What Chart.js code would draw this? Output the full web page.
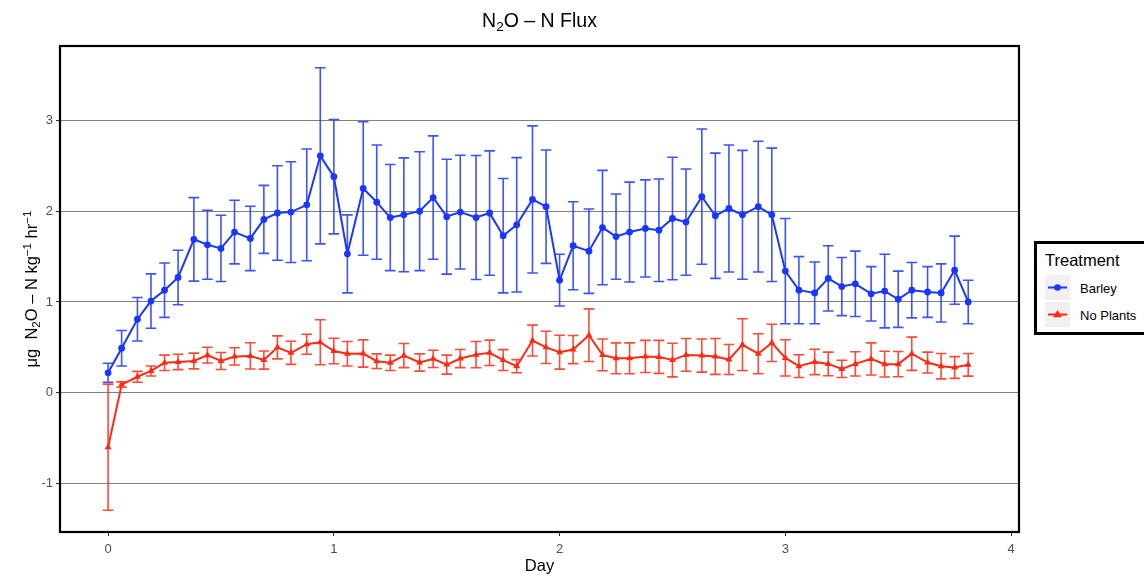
<!DOCTYPE html>
<html>
<head>
<meta charset="utf-8">
<script src="https://cdn.jsdelivr.net/npm/chart.js@4"></script>
<style>
  body { margin:0; width:1144px; height:575px; overflow:hidden; position:relative; background:#fff;
         font-family:"Liberation Sans", Arial, Helvetica, sans-serif; color:#000; }
  #c { position:absolute; left:0; top:0; }
  .title { position:absolute; left:60px; width:959px; top:9px; text-align:center; font-size:19.5px; }
  .xtitle { position:absolute; left:60px; width:959px; top:556px; text-align:center; font-size:16.5px; }
  .ytitle { position:absolute; left:31px; top:289px; width:300px; margin-left:-150px; text-align:center;
            font-size:16.5px; transform:translate(0,-50%) rotate(-90deg); transform-origin:50% 50%; white-space:nowrap; line-height:20px; }
  sub { font-size:70%; vertical-align:-0.3em; line-height:0; }
  sup { font-size:70%; vertical-align:0.55em; line-height:0; }
  .legend { position:absolute; left:1034px; top:241px; width:130px; height:88px; border:3px solid #000; background:#fff; }
  .legend .lt { position:absolute; left:8px; top:7px; font-size:16.5px; }
  .legend .key { position:absolute; left:8px; width:25px; height:25px; background:#f0f0f0; }
  .legend .lab { position:absolute; left:43px; font-size:13px; }
</style>
</head>
<body>
<canvas id="c" width="1144" height="575"></canvas>
<div class="title">N<sub>2</sub>O – N Flux</div>
<div class="xtitle">Day</div>
<div class="ytitle">μg&nbsp; N<sub>2</sub>O – N kg<sup>−1</sup> hr<sup>−1</sup></div>
<div class="legend">
  <div class="lt">Treatment</div>
  <div class="key" style="top:31px"><svg width="25" height="25"><line x1="3" y1="12.5" x2="22" y2="12.5" stroke="#1a36ff" stroke-width="2"/><circle cx="12.5" cy="12.5" r="3.3" fill="#1a36ff"/></svg></div>
  <div class="lab" style="top:37px">Barley</div>
  <div class="key" style="top:58px"><svg width="25" height="25"><line x1="3" y1="12.5" x2="22" y2="12.5" stroke="#ff2a14" stroke-width="2"/><polygon points="12.5,8 17,15.2 8,15.2" fill="#ff2a14"/></svg></div>
  <div class="lab" style="top:64px">No Plants</div>
</div>
<script>
// Sampling times (days)
const days = [0, 0.06, 0.13, 0.19, 0.25, 0.31, 0.38, 0.44, 0.50, 0.56, 0.63, 0.69, 0.75, 0.81, 0.88, 0.94,
  1.00, 1.06, 1.13, 1.19, 1.25, 1.31, 1.38, 1.44, 1.50, 1.56, 1.63, 1.69, 1.75, 1.81, 1.88, 1.94,
  2.00, 2.06, 2.13, 2.19, 2.25, 2.31, 2.38, 2.44, 2.50, 2.56, 2.63, 2.69, 2.75, 2.81, 2.88, 2.94,
  3.00, 3.06, 3.13, 3.19, 3.25, 3.31, 3.38, 3.44, 3.50, 3.56, 3.63, 3.69, 3.75, 3.81];

// Mean N2O-N flux, Barley
const barley = [0.22, 0.49, 0.81, 1.01, 1.13, 1.27, 1.69, 1.63, 1.59, 1.77, 1.70, 1.91, 1.98, 1.99, 2.07, 2.61,
  2.38, 1.53, 2.25, 2.10, 1.93, 1.96, 2.00, 2.15, 1.94, 1.99, 1.93, 1.98, 1.73, 1.85, 2.13, 2.05,
  1.24, 1.62, 1.56, 1.82, 1.72, 1.77, 1.81, 1.79, 1.92, 1.88, 2.16, 1.95, 2.03, 1.96, 2.05, 1.96,
  1.34, 1.13, 1.10, 1.26, 1.17, 1.20, 1.09, 1.12, 1.03, 1.13, 1.11, 1.10, 1.35, 1.00];
// Standard error, Barley
const barleySE = [0.105, 0.195, 0.24, 0.30, 0.30, 0.30, 0.46, 0.38, 0.365, 0.35, 0.355, 0.375, 0.52, 0.555, 0.615, 0.97,
  0.63, 0.43, 0.735, 0.63, 0.585, 0.627, 0.655, 0.68, 0.633, 0.627, 0.683, 0.685, 0.63, 0.74, 0.81, 0.625,
  0.285, 0.485, 0.465, 0.63, 0.47, 0.55, 0.535, 0.565, 0.675, 0.585, 0.745, 0.69, 0.70, 0.71, 0.72, 0.735,
  0.58, 0.37, 0.34, 0.36, 0.32, 0.36, 0.30, 0.405, 0.31, 0.305, 0.28, 0.32, 0.375, 0.24];

// Mean N2O-N flux, No Plants
const noPlants = [-0.60, 0.09, 0.176, 0.24, 0.33, 0.34, 0.35, 0.414, 0.35, 0.40, 0.406, 0.36, 0.50, 0.44, 0.535, 0.557,
  0.46, 0.43, 0.432, 0.348, 0.33, 0.41, 0.333, 0.374, 0.31, 0.377, 0.42, 0.44, 0.36, 0.293, 0.575, 0.50,
  0.447, 0.476, 0.634, 0.417, 0.38, 0.38, 0.40, 0.395, 0.36, 0.417, 0.41, 0.40, 0.366, 0.53, 0.43, 0.55,
  0.384, 0.293, 0.34, 0.318, 0.263, 0.318, 0.373, 0.315, 0.315, 0.43, 0.333, 0.293, 0.278, 0.308];
// Standard error, No Plants
const noPlantsSE = [0.695, 0.03, 0.06, 0.055, 0.085, 0.085, 0.087, 0.087, 0.093, 0.095, 0.145, 0.10, 0.127, 0.127, 0.11, 0.248,
  0.14, 0.135, 0.15, 0.08, 0.085, 0.133, 0.095, 0.095, 0.105, 0.10, 0.145, 0.14, 0.115, 0.072, 0.17, 0.177,
  0.187, 0.155, 0.29, 0.175, 0.17, 0.17, 0.177, 0.182, 0.185, 0.18, 0.183, 0.197, 0.165, 0.285, 0.22, 0.205,
  0.20, 0.125, 0.14, 0.13, 0.095, 0.133, 0.177, 0.142, 0.139, 0.183, 0.115, 0.14, 0.12, 0.125];

const xTicks = [0, 1, 2, 3, 4];
const yTicks = [-1, 0, 1, 2, 3];

const BLUE = '#1a36ff';
const RED = '#ff2a14';
const FONT = '"Liberation Sans", Arial, Helvetica, sans-serif';

const pts = (ys) => days.map((d, i) => ({ x: d, y: ys[i] }));

// Vertical error bars with caps, drawn in data space
const errorBars = {
  id: 'errorBars',
  afterDatasetsDraw(chart) {
    const { ctx, scales: { x, y } } = chart;
    ctx.save();
    chart.data.datasets.forEach((ds, di) => {
      if (!chart.isDatasetVisible(di)) return;
      ctx.strokeStyle = ds.errorColor;
      ctx.lineWidth = 1.6;
      ds.data.forEach((p, i) => {
        const e = ds.errors[i];
        const px = x.getPixelForValue(p.x);
        const yTop = y.getPixelForValue(p.y + e);
        const yBot = y.getPixelForValue(p.y - e);
        const half = x.getPixelForValue(p.x + 0.0235) - px;
        ctx.beginPath();
        ctx.moveTo(px, yTop); ctx.lineTo(px, yBot);
        ctx.moveTo(px - half, yTop); ctx.lineTo(px + half, yTop);
        ctx.moveTo(px - half, yBot); ctx.lineTo(px + half, yBot);
        ctx.stroke();
      });
    });
    ctx.restore();
  }
};

// Panel frame
const panelFrame = {
  id: 'panelFrame',
  afterDraw(chart) {
    const { ctx, chartArea: a } = chart;
    ctx.save();
    ctx.strokeStyle = '#000';
    ctx.lineWidth = 2.2;
    ctx.strokeRect(a.left, a.top, a.right - a.left, a.bottom - a.top);
    ctx.restore();
  }
};

new Chart(document.getElementById('c'), {
  type: 'line',
  data: {
    datasets: [
      { label: 'Barley', data: pts(barley), errors: barleySE, errorColor: 'rgba(26,54,255,0.85)',
        borderColor: BLUE, backgroundColor: BLUE, borderWidth: 2,
        pointStyle: 'circle', pointRadius: 3.4, pointBorderWidth: 0, tension: 0, order: 1 },
      { label: 'No Plants', data: pts(noPlants), errors: noPlantsSE, errorColor: 'rgba(255,42,20,0.85)',
        borderColor: RED, backgroundColor: RED, borderWidth: 2,
        pointStyle: 'triangle', pointRadius: 4, pointBorderWidth: 0, tension: 0, order: 2 }
    ]
  },
  options: {
    responsive: false,
    animation: false,
    devicePixelRatio: 1,
    layout: { padding: { left: 0, top: 46, right: 125, bottom: 0 } },
    plugins: { legend: { display: false }, tooltip: { enabled: false }, title: { display: false } },
    scales: {
      x: {
        type: 'linear', min: -0.213, max: 4.035,
        afterBuildTicks: (s) => { s.ticks = xTicks.map(v => ({ value: v })); },
        afterFit: (s) => { s.height = 43; },
        grid: { drawOnChartArea: false, drawTicks: true, tickLength: 4, tickColor: '#333', lineWidth: 1 },
        border: { display: false },
        ticks: { color: '#4d4d4d', font: { family: FONT, size: 13 }, padding: 6, maxRotation: 0,
                 callback: (v) => String(v) }
      },
      y: {
        type: 'linear', min: -1.534, max: 3.82,
        afterBuildTicks: (s) => { s.ticks = yTicks.map(v => ({ value: v })); },
        afterFit: (s) => { s.width = 60; },
        grid: { color: '#808080', lineWidth: 1.1, drawTicks: true, tickLength: 4, tickColor: '#333' },
        border: { display: false },
        ticks: { color: '#4d4d4d', font: { family: FONT, size: 13 }, padding: 3,
                 callback: (v) => String(v) }
      }
    }
  },
  plugins: [errorBars, panelFrame]
});
</script>
</body>
</html>
